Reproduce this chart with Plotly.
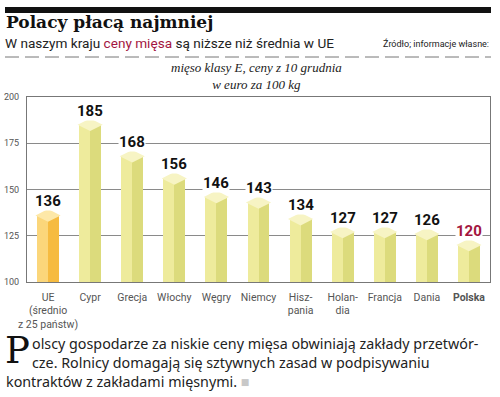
import plotly.graph_objects as go

categories = ["UE<br>(średnio<br>z 25 państw)", "Cypr", "Grecja", "Włochy", "Węgry", "Niemcy",
              "Hisz-<br>pania", "Holan-<br>dia", "Francja", "Dania", "<b>Polska</b>"]
values = [136, 185, 168, 156, 146, 143, 134, 127, 127, 126, 120]
value_labels = ["136", "185", "168", "156", "146", "143", "134", "127", "127", "126", "120"]
y_ticks = [100, 125, 150, 175, 200]

W, H = 500, 397
def py(p):
    return 1 - p / H
def px(p):
    return p / W

xs = list(range(len(categories)))
left_col = ["#fbd67a" if i == 0 else "#eeeb9c" for i in xs]
right_col = ["#f6bb40" if i == 0 else "#dcdb7c" for i in xs]
cap_col = ["#fde8a8" if i == 0 else "#f7f4c4" for i in xs]
label_col = ["#a3163f" if i == len(xs) - 1 else "#111111" for i in xs]

fig = go.Figure()
fig.add_trace(go.Bar(x=xs, y=values, base=0, width=0.26, offset=-0.26,
                     marker=dict(color=left_col, line=dict(width=0)), hoverinfo="skip"))
fig.add_trace(go.Bar(x=xs, y=values, base=0, width=0.26, offset=0.0,
                     marker=dict(color=right_col, line=dict(width=0)), hoverinfo="skip"))
fig.add_trace(go.Scatter(x=xs, y=values, mode="markers",
                         marker=dict(symbol="diamond-wide", size=18, color=cap_col,
                                     line=dict(width=0)), hoverinfo="skip", cliponaxis=False))

for i, v in enumerate(values):
    fig.add_annotation(x=i, y=v, xref="x", yref="y", text=value_labels[i], showarrow=False,
                       yanchor="bottom", yshift=4, bgcolor="white", borderpad=0,
                       font=dict(family="Roboto", size=15, color=label_col[i], weight="bold"))

fig.update_layout(
    width=W, height=H, autosize=False,
    margin=dict(l=0, r=0, t=0, b=0, pad=0),
    paper_bgcolor="white", plot_bgcolor="white",
    showlegend=False, barmode="overlay", bargap=0,
    xaxis=dict(domain=[px(27), px(490)], range=[-0.5, len(xs) - 0.5], automargin=False,
               tickmode="array", tickvals=xs, ticktext=categories, tickangle=0,
               tickfont=dict(family="Roboto", size=10.5, color="#555555"),
               showgrid=False, zeroline=False, showline=True, linecolor="#777777",
               linewidth=1, mirror=True, ticks="", ticklabelstandoff=5),
    yaxis=dict(domain=[py(282), py(97)], range=[100, 200], automargin=False,
               tickmode="array", tickvals=y_ticks,
               tickfont=dict(family="Roboto", size=9, color="#555555"),
               showgrid=True, gridcolor="#8a8a8a", gridwidth=1,
               zeroline=False, showline=True, linecolor="#777777", linewidth=1,
               mirror=True, ticks="", ticklabelstandoff=5),
)

# header elements
fig.add_shape(type="rect", xref="paper", yref="paper", x0=px(5), x1=px(491), y0=py(13), y1=py(7),
              fillcolor="#111111", line=dict(width=0))
fig.add_shape(type="line", xref="paper", yref="paper", x0=px(5), x1=px(491), y0=py(57), y1=py(57),
              line=dict(color="#777777", width=1, dash="14px,6px"))

fig.add_annotation(xref="paper", yref="paper", x=px(4), y=py(22), xanchor="left", yanchor="middle",
                   text="<b>Polacy płacą najmniej</b>", showarrow=False,
                   font=dict(family="DejaVu Serif", size=17, color="#111111"))
fig.add_annotation(xref="paper", yref="paper", x=px(3), y=py(43), xanchor="left", yanchor="middle",
                   text="W naszym kraju <span style='color:#a3163f'>ceny mięsa</span> są niższe niż średnia w UE",
                   showarrow=False,
                   font=dict(family="Roboto", size=13.6, color="#222222"))
fig.add_annotation(xref="paper", yref="paper", x=px(491), y=py(43), xanchor="right", yanchor="middle",
                   text="Źródło; informacje własne:", showarrow=False,
                   font=dict(family="Roboto", size=9, color="#222222"))
fig.add_annotation(xref="paper", yref="paper", x=px(256), y=py(76), xanchor="center", yanchor="middle",
                   text="<i>mięso klasy E, ceny z 10 grudnia<br>w euro za 100 kg</i>", showarrow=False,
                   font=dict(family="Liberation Serif", size=13, color="#222222"))

# paragraph
fig.add_annotation(xref="paper", yref="paper", x=px(4), y=py(350), xanchor="left", yanchor="middle",
                   text="P", showarrow=False, borderpad=0,
                   font=dict(family="DejaVu Serif", size=37, color="#111111"))
fig.add_annotation(xref="paper", yref="paper", x=px(31), y=py(352.5), xanchor="left", yanchor="middle",
                   align="left", borderpad=0,
                   text="olscy gospodarze za niskie ceny mięsa obwiniają zakłady przetwór-<br>"
                        "cze. Rolnicy domagają się sztywnych zasad w podpisywaniu",
                   showarrow=False, font=dict(family="Noto Sans", size=14.3, color="#222222"))
fig.add_annotation(xref="paper", yref="paper", x=px(5), y=py(381), xanchor="left", yanchor="middle",
                   borderpad=0,
                   text="kontraktów z zakładami mięsnymi. <span style='color:#c8c8c8'>■</span>",
                   showarrow=False, font=dict(family="Noto Sans", size=14.3, color="#222222"))

fig.write_html("out.html", config={"displayModeBar": False},
               post_script="document.body.style.margin='0';document.body.style.padding='0';")
